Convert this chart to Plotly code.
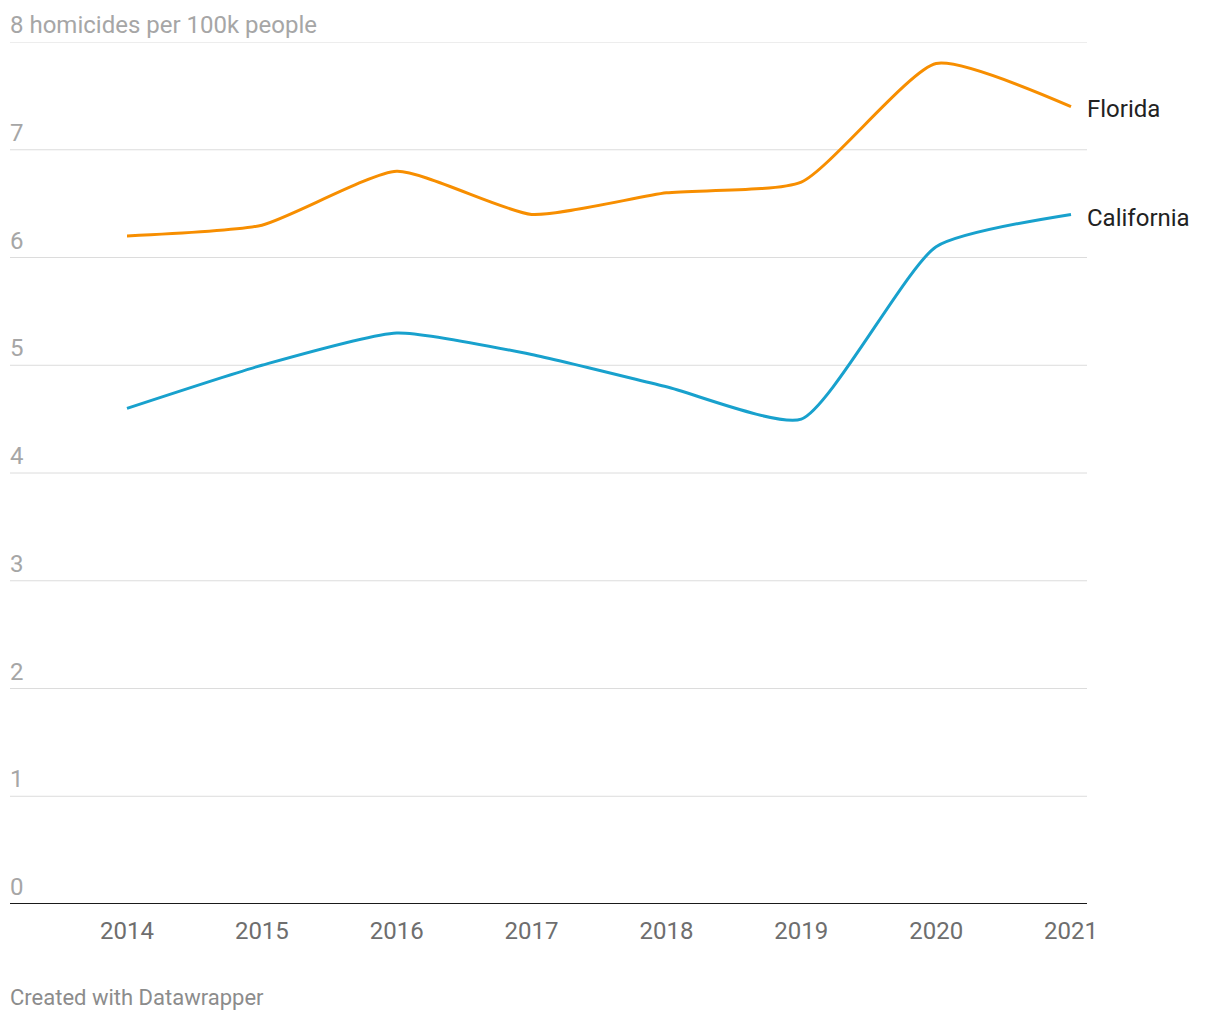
import plotly.graph_objects as go

years = [2014, 2015, 2016, 2017, 2018, 2019, 2020, 2021]
florida = [6.2, 6.3, 6.8, 6.4, 6.6, 6.7, 7.8, 7.4]
california = [4.6, 5.0, 5.3, 5.1, 4.8, 4.5, 6.1, 6.4]
y_ticks = [0, 1, 2, 3, 4, 5, 6, 7, 8]
y_tick_labels = ["0", "1", "2", "3", "4", "5", "6", "7", "8 homicides per 100k people"]

ORANGE = "#f78e00"
BLUE = "#18a1cd"
FONT = "Roboto"

fig = go.Figure()
fig.add_trace(go.Scatter(x=years, y=florida, mode="lines", name="Florida",
                         line=dict(color=ORANGE, width=3, shape="spline", smoothing=0.55),
                         hoverinfo="skip"))
fig.add_trace(go.Scatter(x=years, y=california, mode="lines", name="California",
                         line=dict(color=BLUE, width=3, shape="spline", smoothing=0.55),
                         hoverinfo="skip"))

annotations = []
for v, t in zip(y_ticks, y_tick_labels):
    annotations.append(dict(x=0, xref="paper", y=v, yref="y", text=t, showarrow=False,
                            xanchor="left", yanchor="bottom", yshift=1, xshift=-2,
                            font=dict(family=FONT, size=24, color="#a6a6a6")))
annotations.append(dict(x=years[-1], y=florida[-1], xref="x", yref="y", text="Florida",
                        showarrow=False, xanchor="left", xshift=14, yshift=-2,
                        font=dict(family=FONT, size=24, color="#222222")))
annotations.append(dict(x=years[-1], y=california[-1], xref="x", yref="y", text="California",
                        showarrow=False, xanchor="left", xshift=14, yshift=-4,
                        font=dict(family=FONT, size=24, color="#222222")))
annotations.append(dict(x=0, xref="paper", y=-(997 - 904) / (904 - 42), yref="paper",
                        text="Created with Datawrapper", xshift=-2,
                        showarrow=False, xanchor="left", yanchor="middle",
                        font=dict(family=FONT, size=22, color="#8c8c8c")))

grid_shapes = [dict(type="line", xref="paper", yref="y", x0=0, x1=1, y0=v, y1=v,
                    layer="below", line=dict(color="#dcdcdc", width=1))
               for v in y_ticks[1:]]

fig.update_layout(
    width=1220, height=1020,
    margin=dict(l=10, r=133, t=42, b=116),
    paper_bgcolor="white", plot_bgcolor="white",
    showlegend=False,
    font=dict(family=FONT),
    annotations=annotations,
    xaxis=dict(range=[2014 - 117 / 134.86, 2021 + 16 / 134.86], tickmode="array",
               tickvals=years, ticktext=[str(y) for y in years],
               showgrid=False, zeroline=False, showline=False, ticks="",
               tickfont=dict(family=FONT, size=24, color="#6e6e6e"), ticklabelstandoff=10),
    yaxis=dict(range=[0, 8], tickmode="array", tickvals=y_ticks, showticklabels=False,
               showgrid=False, zeroline=False, showline=False),
    shapes=grid_shapes + [dict(type="line", xref="paper", yref="y", x0=0, x1=1, y0=0, y1=0,
                               line=dict(color="#1a1a1a", width=2))],
)

fig.write_html("out.html")
